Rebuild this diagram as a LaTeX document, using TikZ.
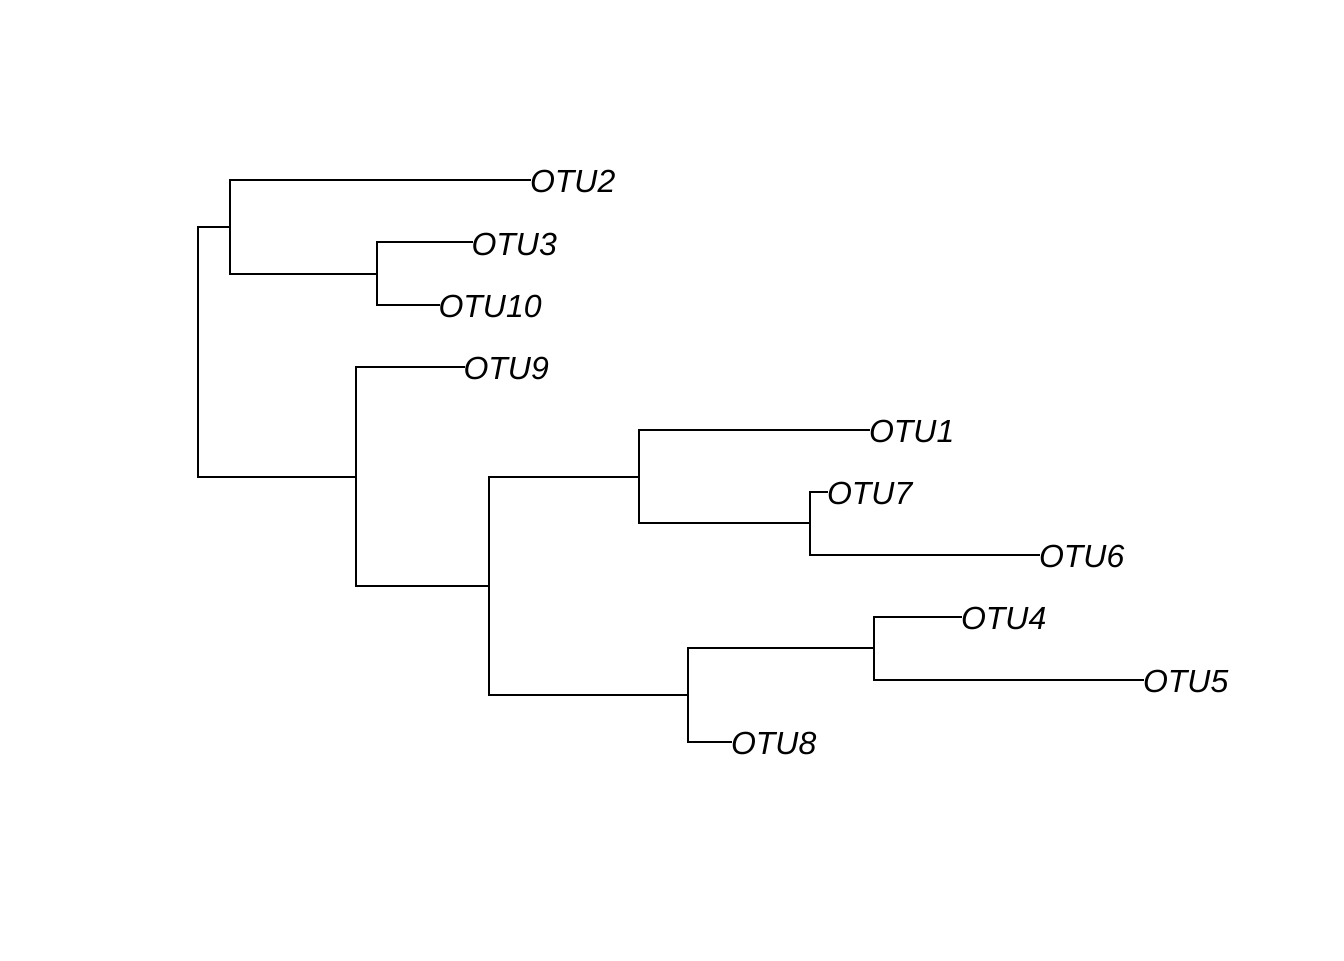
\documentclass[tikz,border=0pt]{standalone}
\usepackage{fontspec}
\setmainfont{Liberation Sans}
\begin{document}
\begin{tikzpicture}[x=0.5pt,y=-0.5pt,
  branch/.style={line width=1pt,line cap=rect,black},
  tiplabel/.style={anchor=base west,inner sep=0pt,outer sep=0pt,yshift=-6.3pt,
    font=\fontsize{16pt}{18pt}\selectfont\itshape}]
\useasboundingbox (0,0) rectangle (1344,960);
% tips
\coordinate (t2) at (530,180);
\coordinate (t3) at (471.5,242.4);
\coordinate (t10) at (438.5,304.9);
\coordinate (t9) at (463.5,367.3);
\coordinate (t1) at (869,429.8);
\coordinate (t7) at (827,492.2);
\coordinate (t6) at (1039,554.6);
\coordinate (t4) at (961,617.1);
\coordinate (t5) at (1143,679.5);
\coordinate (t8) at (731,742.0);
% internal nodes
\coordinate (B) at (376.5,273.6);
\coordinate (A) at (229.5,226.8);
\coordinate (F) at (810,523.4);
\coordinate (E) at (638.5,476.6);
\coordinate (H) at (874,648.3);
\coordinate (G) at (688,695.2);
\coordinate (D) at (489,585.9);
\coordinate (C) at (356,476.6);
\coordinate (R) at (198,351.7);
% verticals
\draw[branch] (R |- A) -- (R |- C);
\draw[branch] (A |- t2) -- (A |- B);
\draw[branch] (B |- t3) -- (B |- t10);
\draw[branch] (C |- t9) -- (C |- D);
\draw[branch] (D |- E) -- (D |- G);
\draw[branch] (E |- t1) -- (E |- F);
\draw[branch] (F |- t7) -- (F |- t6);
\draw[branch] (G |- H) -- (G |- t8);
\draw[branch] (H |- t4) -- (H |- t5);
% horizontals
\draw[branch] (R |- A) -- (A);
\draw[branch] (R |- C) -- (C);
\draw[branch] (A |- t2) -- (t2);
\draw[branch] (A |- B) -- (B);
\draw[branch] (B |- t3) -- (t3);
\draw[branch] (B |- t10) -- (t10);
\draw[branch] (C |- t9) -- (t9);
\draw[branch] (C |- D) -- (D);
\draw[branch] (D |- E) -- (E);
\draw[branch] (D |- G) -- (G);
\draw[branch] (E |- t1) -- (t1);
\draw[branch] (E |- F) -- (F);
\draw[branch] (F |- t7) -- (t7);
\draw[branch] (F |- t6) -- (t6);
\draw[branch] (G |- H) -- (H);
\draw[branch] (G |- t8) -- (t8);
\draw[branch] (H |- t4) -- (t4);
\draw[branch] (H |- t5) -- (t5);
% labels
\node[tiplabel] (l2) at (t2) {OTU2};
\node[tiplabel] (l3) at (t3) {OTU3};
\node[tiplabel] (l10) at (t10) {OTU10};
\node[tiplabel] (l9) at (t9) {OTU9};
\node[tiplabel] (l1) at (t1) {OTU1};
\node[tiplabel] (l7) at (t7) {OTU7};
\node[tiplabel] (l6) at (t6) {OTU6};
\node[tiplabel] (l4) at (t4) {OTU4};
\node[tiplabel] (l5) at (t5) {OTU5};
\node[tiplabel] (l8) at (t8) {OTU8};
\end{tikzpicture}
\end{document}
